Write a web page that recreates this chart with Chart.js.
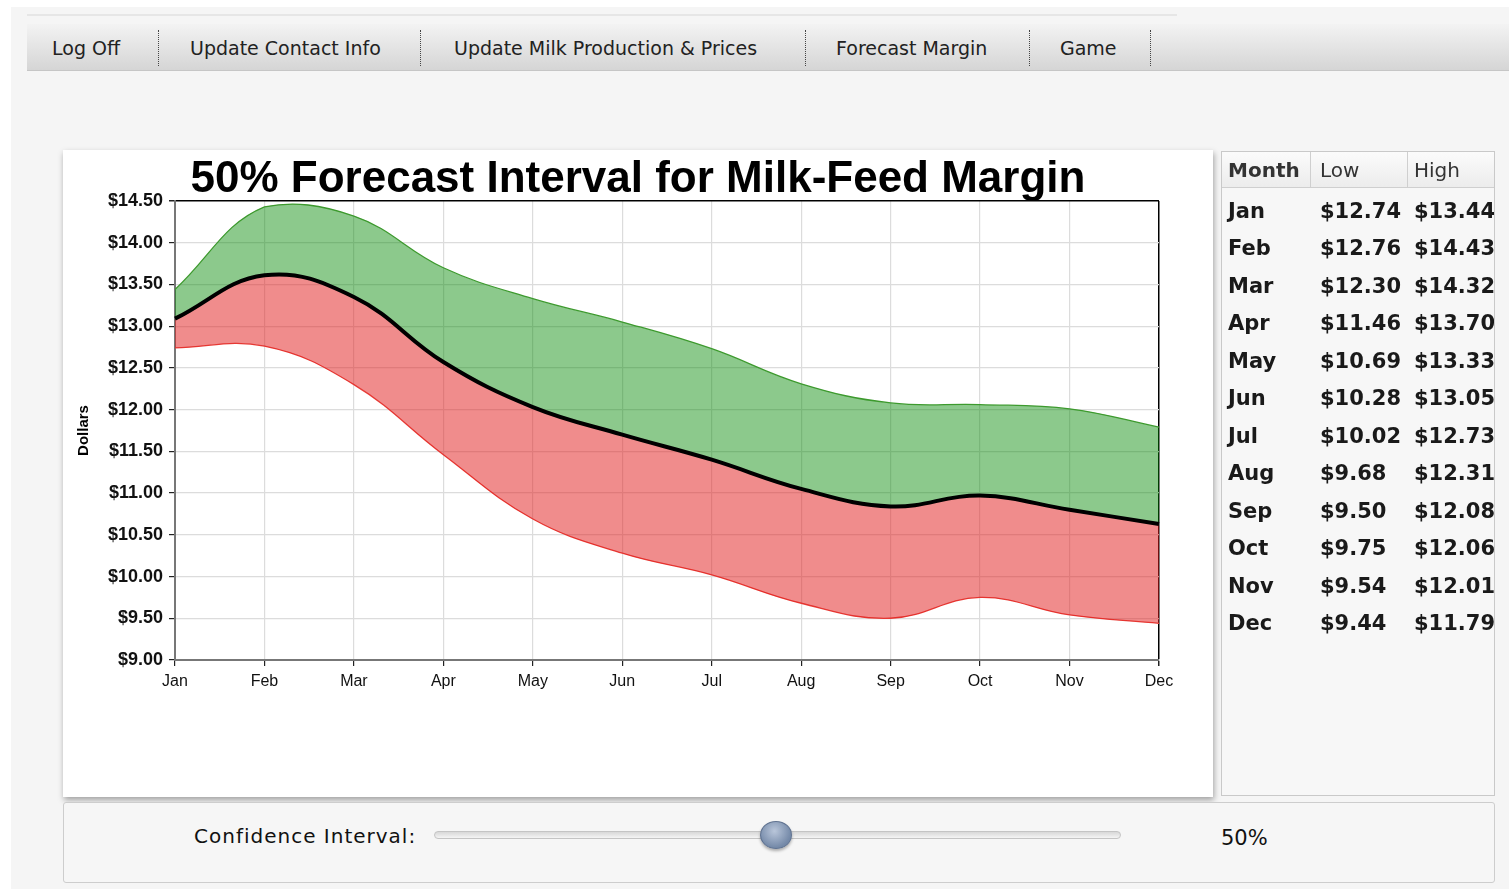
<!DOCTYPE html>
<html>
<head>
<meta charset="utf-8">
<script src="https://cdn.jsdelivr.net/npm/chart.js@4"></script>
<style>
  html, body { margin: 0; padding: 0; }
  body { width: 1509px; height: 889px; background: #fff; position: relative; overflow: hidden; font-family: "DejaVu Sans", sans-serif; }
  .page { position: absolute; left: 11px; top: 7px; right: 0; bottom: 0; background: #f5f5f5; }
  .topline { position: absolute; left: 27px; top: 14px; width: 1150px; height: 2px; background: #e6e6e6; }
  .menu { position: absolute; left: 27px; top: 24px; width: 1482px; height: 46px; background: linear-gradient(#f3f3f3, #d5d5d5); border-bottom: 1px solid #c6c6c6; }
  .menu span { position: absolute; top: 0; line-height: 48px; font-size: 19px; color: #222; white-space: nowrap; }
  .menu i { position: absolute; top: 6px; height: 36px; border-left: 1px dotted #444; }
  .chartbox { position: absolute; left: 63px; top: 150px; width: 1150px; height: 647px; background: #fff; box-shadow: 1px 3px 6px rgba(0,0,0,0.35); }
  .ctitle { position: absolute; left: 0; top: 2px; width: 1150px; text-align: center; line-height: 50px; font-family: "Liberation Sans", Arial, sans-serif; font-weight: bold; font-size: 44px; color: #000; white-space: nowrap; }
  .tbl { position: absolute; left: 1221px; top: 151px; width: 272px; height: 643px; border: 1px solid #c9c9c9; background: #f7f7f7; overflow: hidden; }
  .thead { position: absolute; left: 0; top: 0; width: 100%; height: 35px; background: linear-gradient(#fbfbfb, #ececec); border-bottom: 1px solid #cfcfcf; }
  .thead span, .row span { position: absolute; white-space: nowrap; }
  .thead span { top: 0; line-height: 37px; font-size: 20px; color: #333; }
  .thead i { position: absolute; top: 0; height: 35px; border-left: 1px solid #cfcfcf; }
  .row { position: absolute; left: 0; width: 100%; height: 36px; }
  .row span { top: 0; line-height: 36px; font-size: 21px; font-weight: bold; color: #1a1a1a; }
  .slider { position: absolute; left: 63px; top: 802px; width: 1430px; height: 79px; border: 1px solid #cdcdcd; border-radius: 3px; background: #f6f6f6; }
  .slabel { position: absolute; left: 130px; top: 18px; line-height: 30px; font-size: 20px; letter-spacing: 1px; color: #111; }
  .track { position: absolute; left: 370px; top: 28px; width: 685px; height: 6px; border: 1px solid #c4c4c4; border-radius: 4px; background: linear-gradient(#d8d8d8, #f4f4f4); }
  .thumb { position: absolute; left: 696px; top: 18px; width: 30px; height: 26px; border-radius: 50%; border: 1px solid #5f7290; background: radial-gradient(circle at 45% 35%, #b9c6da, #7489a8 70%); box-shadow: 0 2px 3px rgba(0,0,0,0.3); }
  .sval { position: absolute; left: 1157px; top: 20px; line-height: 30px; font-size: 21px; color: #111; }
</style>
</head>
<body>
<div class="page"></div>
<div class="topline"></div>
<div class="menu">
  <span style="left:25px">Log Off</span><i style="left:131px"></i>
  <span style="left:163px">Update Contact Info</span><i style="left:393px"></i>
  <span style="left:427px">Update Milk Production &amp; Prices</span><i style="left:778px"></i>
  <span style="left:809px">Forecast Margin</span><i style="left:1002px"></i>
  <span style="left:1033px">Game</span><i style="left:1123px"></i>
</div>

<div class="chartbox">
  <canvas id="marginChart"></canvas>
  <div class="ctitle">50% Forecast Interval for Milk-Feed Margin</div>
</div>

<div class="tbl" id="tbl">
  <div class="thead">
    <span style="left:6px;font-weight:bold">Month</span><i style="left:88px"></i>
    <span style="left:98px">Low</span><i style="left:185px"></i>
    <span style="left:192px">High</span>
  </div>
</div>

<div class="slider">
  <div class="slabel">Confidence Interval:</div>
  <div class="track"></div>
  <div class="thumb"></div>
  <div class="sval">50%</div>
</div>

<script>
// Datos
const months = ['Jan', 'Feb', 'Mar', 'Apr', 'May', 'Jun', 'Jul', 'Aug', 'Sep', 'Oct', 'Nov', 'Dec'];
const lowVals = [12.74, 12.76, 12.30, 11.46, 10.69, 10.28, 10.02, 9.68, 9.50, 9.75, 9.54, 9.44];
const highVals = [13.44, 14.43, 14.32, 13.70, 13.33, 13.05, 12.73, 12.31, 12.08, 12.06, 12.01, 11.79];
const midVals = [13.09, 13.61, 13.35, 12.57, 12.03, 11.70, 11.40, 11.05, 10.84, 10.97, 10.80, 10.63];
const yTicks = [9.00, 9.50, 10.00, 10.50, 11.00, 11.50, 12.00, 12.50, 13.00, 13.50, 14.00, 14.50];

// Tabla de valores
const tbl = document.getElementById('tbl');
months.forEach((m, i) => {
    const row = document.createElement('div');
    row.className = 'row';
    row.style.top = (41 + i * 37.45) + 'px';
    row.innerHTML = `
        <span style="left:6px">${m}</span>
        <span style="left:98px">$${lowVals[i].toFixed(2)}</span>
        <span style="left:192px">$${highVals[i].toFixed(2)}</span>`;
    tbl.appendChild(row);
});

const ctx = document.getElementById('marginChart').getContext('2d');
window.marginChart = new Chart(ctx, {
    type: 'line',
    data: {
        labels: months,
        datasets: [
            {
                label: 'High',
                data: highVals,
                borderColor: '#3d9a2e',
                borderWidth: 1.3,
                backgroundColor: 'rgba(0, 135, 0, 0.45)',
                fill: '+1',
                order: 1
            },
            {
                label: 'Forecast',
                data: midVals,
                borderColor: '#000',
                borderWidth: 4,
                backgroundColor: 'rgba(225, 25, 25, 0.5)',
                fill: '+1',
                order: 0
            },
            {
                label: 'Low',
                data: lowVals,
                borderColor: '#e8403a',
                borderWidth: 1.3,
                fill: false,
                order: 2
            }
        ]
    },
    options: {
        responsive: true,
        maintainAspectRatio: false,
        animation: false,
        elements: {
            point: { radius: 0 },
            line: { tension: 0.4 }
        },
        layout: {
            padding: { left: 12, right: 54, top: 51, bottom: 97 }
        },
        plugins: {
            legend: { display: false },
            tooltip: { enabled: false },
            title: { display: false }
        },
        scales: {
            x: {
                type: 'category',
                offset: false,
                afterFit: function(scale) { scale.height = 40; },
                grid: {
                    color: c => c.index === months.length - 1 ? '#000' : '#dcdcdc',
                    lineWidth: c => c.index === months.length - 1 ? 1.5 : 1.2,
                    tickColor: '#222',
                    tickLength: 6
                },
                border: { color: '#777', width: 2 },
                ticks: {
                    color: '#111',
                    padding: 6,
                    maxRotation: 0,
                    font: { family: '"Liberation Sans", Arial, sans-serif', size: 16 }
                }
            },
            y: {
                min: 9,
                max: 14.5,
                afterFit: function(scale) { scale.width = 100; },
                afterBuildTicks: function(scale) {
                    scale.ticks = yTicks.map(v => ({ value: v }));
                },
                grid: {
                    color: c => c.tick && c.tick.value === 14.5 ? '#000' : '#dcdcdc',
                    lineWidth: c => c.tick && c.tick.value === 14.5 ? 1.5 : 1.2,
                    tickColor: '#222',
                    tickLength: 6
                },
                border: { color: '#777', width: 2 },
                title: {
                    display: true,
                    text: 'Dollars',
                    color: '#000',
                    padding: { top: 0, bottom: 4 },
                    font: { family: '"Liberation Sans", Arial, sans-serif', size: 15, weight: 'bold' }
                },
                ticks: {
                    color: '#111',
                    padding: 6,
                    font: { family: '"Liberation Sans", Arial, sans-serif', size: 18, weight: 'bold' },
                    callback: function(value) {
                        return '$' + Number(value).toFixed(2);
                    }
                }
            }
        }
    }
});
</script>
</body>
</html>
